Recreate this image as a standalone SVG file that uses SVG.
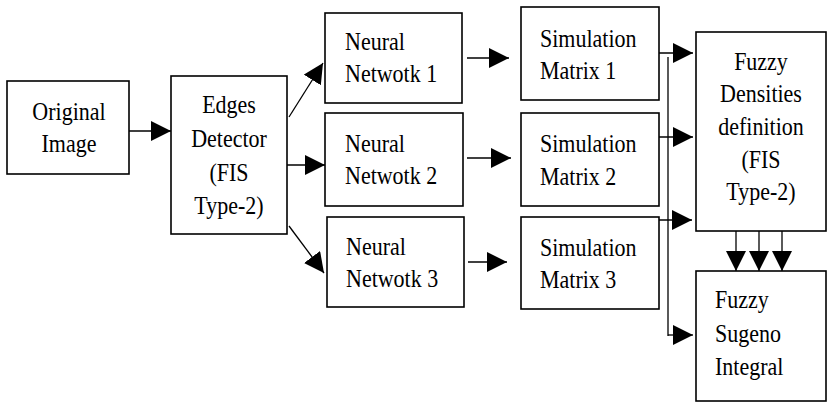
<svg xmlns="http://www.w3.org/2000/svg" width="827" height="402" viewBox="0 0 827 402">
<defs>
<marker id="ah" markerUnits="userSpaceOnUse" markerWidth="20" markerHeight="20" refX="20" refY="10" orient="auto" viewBox="0 0 20 20">
<path d="M0,0 L20,10 L0,20 z" fill="#000"/>
</marker>
<style>
.box{fill:#fff;stroke:#000;stroke-width:1.6}
.t{font-family:'Liberation Serif','Times New Roman',serif;font-size:25px;fill:#000}
.c{text-anchor:middle}
.ln{fill:none;stroke:#000;stroke-width:1.3}
.ar{marker-end:url(#ah)}
</style>
</defs>
<rect width="827" height="402" fill="#fff"/>
<g id="connectors">
<line class="ln ar" x1="129" y1="131" x2="171" y2="131"/>
<line class="ln ar" x1="289" y1="117" x2="323" y2="63"/>
<line class="ln ar" x1="287" y1="165" x2="325" y2="165"/>
<line class="ln ar" x1="289" y1="226" x2="324" y2="273"/>
<line class="ln ar" x1="467" y1="58" x2="509" y2="58"/>
<line class="ln ar" x1="467" y1="158" x2="511" y2="158"/>
<line class="ln ar" x1="468" y1="262" x2="507" y2="262"/>
<line class="ln ar" x1="659" y1="53" x2="693" y2="53"/>
<line class="ln ar" x1="659" y1="137" x2="693" y2="137"/>
<line class="ln ar" x1="659" y1="220" x2="692" y2="220"/>
<line class="ln" x1="668" y1="57" x2="668" y2="336"/>
<line class="ln ar" x1="668" y1="335" x2="693" y2="335"/>
<line class="ln ar" x1="736" y1="231" x2="736" y2="271"/>
<line class="ln ar" x1="759" y1="231" x2="759" y2="271"/>
<line class="ln ar" x1="782" y1="231" x2="782" y2="271"/>
</g>
<g id="original">
<rect class="box" x="7" y="81" width="122" height="93"/>
<text class="t c" transform="translate(69,0) scale(0.88,1)"><tspan x="0" y="120">Original</tspan><tspan x="0" y="152">Image</tspan></text>
</g>
<g id="edges">
<rect class="box" x="171" y="76" width="116" height="158"/>
<text class="t c" transform="translate(229,0) scale(0.88,1)"><tspan x="0" y="113">Edges</tspan><tspan x="0" y="147">Detector</tspan><tspan x="0" y="181">(FIS</tspan><tspan x="0" y="214">Type-2)</tspan></text>
</g>
<g id="nn1">
<rect class="box" x="325" y="13" width="137" height="90"/>
<text class="t" transform="translate(345,0) scale(0.88,1)"><tspan x="0" y="50">Neural</tspan><tspan x="0" y="82">Netwotk 1</tspan></text>
</g>
<g id="nn2">
<rect class="box" x="325" y="113" width="138" height="93"/>
<text class="t" transform="translate(345,0) scale(0.88,1)"><tspan x="0" y="152">Neural</tspan><tspan x="0" y="184">Netwotk 2</tspan></text>
</g>
<g id="nn3">
<rect class="box" x="327" y="217" width="137" height="90"/>
<text class="t" transform="translate(346,0) scale(0.88,1)"><tspan x="0" y="255">Neural</tspan><tspan x="0" y="287">Netwotk 3</tspan></text>
</g>
<g id="sm1">
<rect class="box" x="521" y="7" width="138" height="93"/>
<text class="t" transform="translate(540,0) scale(0.88,1)"><tspan x="0" y="47">Simulation</tspan><tspan x="0" y="79">Matrix 1</tspan></text>
</g>
<g id="sm2">
<rect class="box" x="521" y="113" width="138" height="93"/>
<text class="t" transform="translate(540,0) scale(0.88,1)"><tspan x="0" y="152">Simulation</tspan><tspan x="0" y="185">Matrix 2</tspan></text>
</g>
<g id="sm3">
<rect class="box" x="521" y="217" width="138" height="92"/>
<text class="t" transform="translate(540,0) scale(0.88,1)"><tspan x="0" y="256">Simulation</tspan><tspan x="0" y="288">Matrix 3</tspan></text>
</g>
<g id="densities">
<rect class="box" x="696" y="32" width="130" height="199"/>
<text class="t c" transform="translate(761,0) scale(0.88,1)"><tspan x="0" y="70">Fuzzy</tspan><tspan x="0" y="102">Densities</tspan><tspan x="0" y="135">definition</tspan><tspan x="0" y="168">(FIS</tspan><tspan x="0" y="200">Type-2)</tspan></text>
</g>
<g id="sugeno">
<rect class="box" x="696" y="271" width="130" height="130"/>
<text class="t" transform="translate(715,0) scale(0.88,1)"><tspan x="0" y="308">Fuzzy</tspan><tspan x="0" y="342">Sugeno</tspan><tspan x="0" y="375">Integral</tspan></text>
</g>
</svg>
